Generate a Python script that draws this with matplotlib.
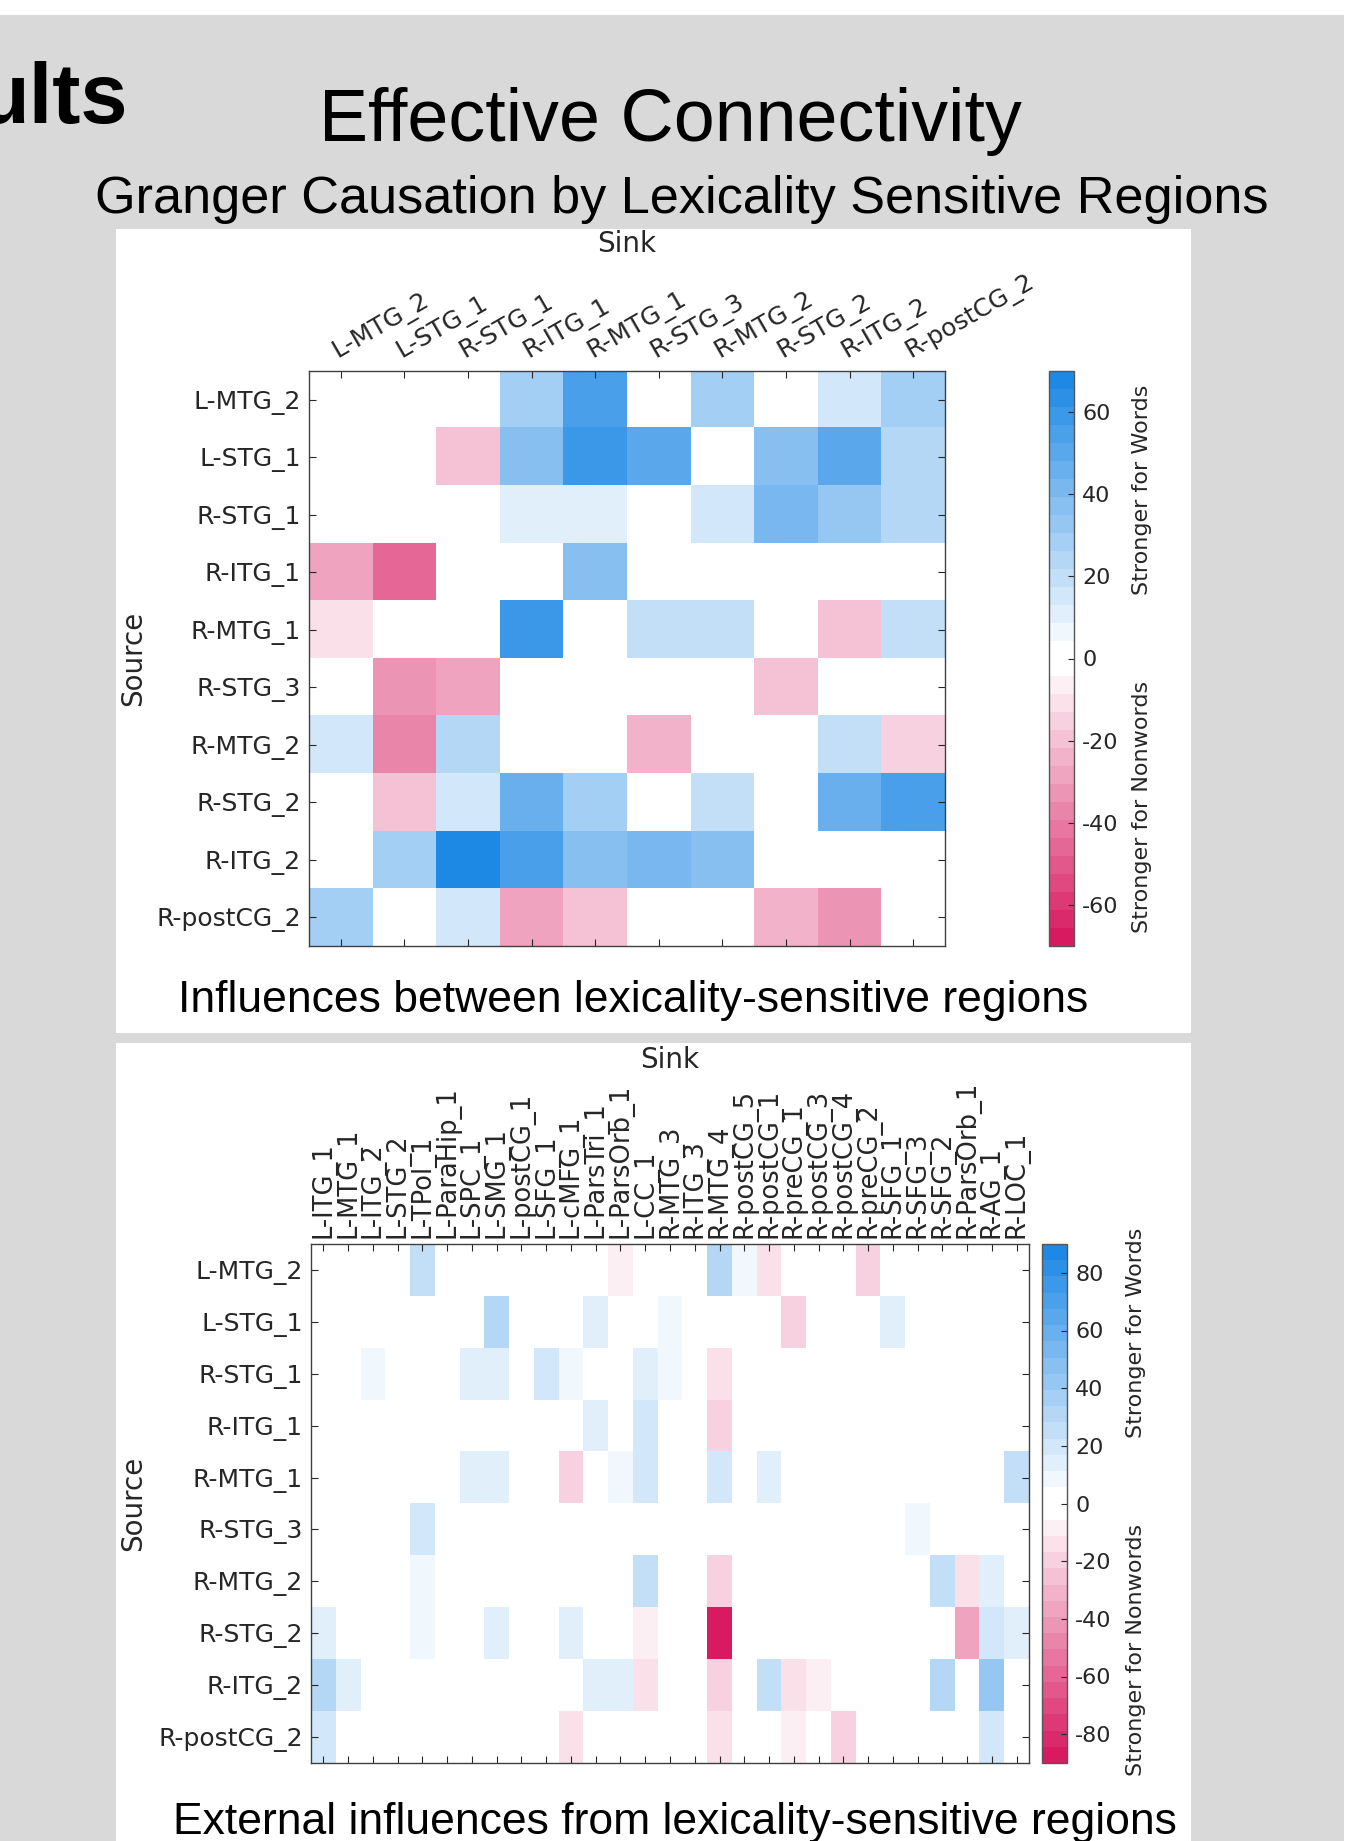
import matplotlib
matplotlib.use("Agg")
import matplotlib.pyplot as plt
from matplotlib.colors import ListedColormap, to_rgb
from matplotlib.patches import Rectangle
import numpy as np

W, H = 1371, 1841

# regions
sources = ['L-MTG_2', 'L-STG_1', 'R-STG_1', 'R-ITG_1', 'R-MTG_1',
           'R-STG_3', 'R-MTG_2', 'R-STG_2', 'R-ITG_2', 'R-postCG_2']
sinks_top = sources
sinks_ext = ['L-ITG_1', 'L-MTG_1', 'L-ITG_2', 'L-STG_2', 'L-TPol_1', 'L-ParaHip_1',
             'L-SPC_1', 'L-SMG_1', 'L-postCG_1', 'L-SFG_1', 'L-cMFG_1', 'L-ParsTri_1',
             'L-ParsOrb_1', 'L-CC_1', 'R-MTG_3', 'R-ITG_3', 'R-MTG_4', 'R-postCG_5',
             'R-postCG_1', 'R-preCG_1', 'R-postCG_3', 'R-postCG_4', 'R-preCG_2',
             'R-SFG_1', 'R-SFG_3', 'R-SFG_2', 'R-ParsOrb_1', 'R-AG_1', 'R-LOC_1']

# influences between lexicality-sensitive regions (rows = source, cols = sink)
gc_within = [
    [0, 0, 0, 28, 54, 0, 28, 0, 15, 28],
    [0, 0, -20, 37, 59, 50, 0, 36, 50, 25],
    [0, 0, 0, 11, 11, 0, 15, 42, 31, 25],
    [-28, -46, 0, 0, 37, 0, 0, 0, 0, 0],
    [-11, 0, 0, 59, 0, 20, 20, 0, -20, 20],
    [0, -33, -28, 0, 0, 0, 0, -20, 0, 0],
    [15, -37, 25, 0, 0, -24, 0, 0, 20, -15],
    [0, -20, 15, 46, 28, 0, 20, 0, 46, 54],
    [0, 28, 68, 54, 37, 42, 37, 0, 0, 0],
    [28, 0, 15, -28, -20, 0, 0, -24, -33, 0],
]

# external influences (rows = source, cols = external sink)
gc_external = [
    [0, 0, 0, 0, 25, 0, 0, 0, 0, 0, 0, 0, -8, 0, 0, 0, 30, 8, -14, 0, 0, 0, -20, 0, 0, 0, 0, 0, 0],
    [0, 0, 0, 0, 0, 0, 0, 30, 0, 0, 0, 12, 0, 0, 8, 0, 0, 0, 0, -20, 0, 0, 0, 12, 0, 0, 0, 0, 0],
    [0, 0, 8, 0, 0, 0, 12, 12, 0, 17, 8, 0, 0, 12, 8, 0, -12, 0, 0, 0, 0, 0, 0, 0, 0, 0, 0, 0, 0],
    [0, 0, 0, 0, 0, 0, 0, 0, 0, 0, 0, 12, 0, 17, 0, 0, -22, 0, 0, 0, 0, 0, 0, 0, 0, 0, 0, 0, 0],
    [0, 0, 0, 0, 0, 0, 12, 12, 0, 0, -18, 0, 8, 17, 0, 0, 17, 0, 12, 0, 0, 0, 0, 0, 0, 0, 0, 0, 25],
    [0, 0, 0, 0, 17, 0, 0, 0, 0, 0, 0, 0, 0, 0, 0, 0, 0, 0, 0, 0, 0, 0, 0, 0, 8, 0, 0, 0, 0],
    [0, 0, 0, 0, 8, 0, 0, 0, 0, 0, 0, 0, 0, 25, 0, 0, -22, 0, 0, 0, 0, 0, 0, 0, 0, 25, -14, 12, 0],
    [12, 0, 0, 0, 8, 0, 0, 12, 0, 0, 12, 0, 0, -8, 0, 0, -88, 0, 0, 0, 0, 0, 0, 0, 0, 0, -35, 17, 12],
    [30, 12, 0, 0, 0, 0, 0, 0, 0, 0, 0, 12, 12, -14, 0, 0, -22, 0, 25, -14, -8, 0, 0, 0, 0, 30, 0, 42, 0],
    [17, 0, 0, 0, 0, 0, 0, 0, 0, 0, -14, 0, 0, 0, 0, 0, -14, 0, 0, -8, 0, -22, 0, 0, 0, 0, 0, 17, 0],
]

top_ticks = [-60, -40, -20, 0, 20, 40, 60]
ext_ticks = [-80, -60, -40, -20, 0, 20, 40, 60, 80]

# 32-step diverging map: pink (nonwords) -> white -> blue (words)
blue = np.array(to_rgb('#1e88e5'))
pink = np.array(to_rgb('#d81b60'))
white = np.ones(3)
steps = np.arange(16) / 15
blues = [white + (blue - white) * s for s in steps]
pinks = [white + (pink - white) * s for s in steps]
cmap = ListedColormap(pinks[::-1] + blues)

plt.rcParams['font.family'] = 'DejaVu Sans'
plt.rcParams['axes.unicode_minus'] = False
TXT = '#262626'

fig = plt.figure(figsize=(W / 100, H / 100), dpi=100, facecolor='#d9d9d9')


def box(x0, y0, x1, y1, color):
    fig.add_artist(Rectangle((x0 / W, 1 - y1 / H), (x1 - x0) / W, (y1 - y0) / H,
                             transform=fig.transFigure, facecolor=color,
                             edgecolor='none', zorder=0))


def new_axes(x0, y0, x1, y1):
    return fig.add_axes([x0 / W, 1 - y1 / H, (x1 - x0) / W, (y1 - y0) / H])


def ftext(x, y, s, **kw):
    fig.text(x / W, 1 - y / H, s, **kw)


# page background pieces
box(0, 0, W, 15, 'white')
box(1344, 0, W, H, 'white')
box(116, 229, 1191, 1033, 'white')
box(116, 1043, 1191, H, 'white')

ftext(128, 123, 'ults', ha='right', va='baseline', fontsize=61,
      fontweight='bold', family='Liberation Sans')
ftext(670, 141, 'Effective Connectivity', ha='center', va='baseline',
      fontsize=53, family='Liberation Sans')
ftext(682, 213, 'Granger Causation by Lexicality Sensitive Regions',
      ha='center', va='baseline', fontsize=37.6, family='Liberation Sans')
ftext(633, 1012, 'Influences between lexicality-sensitive regions',
      ha='center', va='baseline', fontsize=32, family='Liberation Sans')
ftext(675, 1834, 'External influences from lexicality-sensitive regions',
      ha='center', va='baseline', fontsize=32, family='Liberation Sans')


def heatmap(ax, cax, data, cols, vmax, ticks, rot, sink_y, source_x):
    data = np.array(data, dtype=float)
    im = ax.imshow(data, cmap=cmap, vmin=-vmax, vmax=vmax, aspect='auto',
                   interpolation='nearest')
    ax.set_xticks(np.arange(len(cols)))
    ax.set_yticks(np.arange(len(sources)))
    ax.set_yticklabels(sources, fontsize=18, color=TXT)
    ax.tick_params(direction='in', top=True, bottom=True, left=True, right=True,
                   labeltop=True, labelbottom=False, length=5, width=0.8,
                   color=TXT)
    ax.tick_params(axis='y', pad=6)
    if rot == 30:
        ax.set_xticklabels(cols, fontsize=18, color=TXT, rotation=30,
                           ha='left', va='bottom', rotation_mode='anchor')
        ax.tick_params(axis='x', pad=6)
    else:
        ax.set_xticklabels(cols, fontsize=18.5, color=TXT, rotation=90,
                           ha='center', va='bottom')
        ax.tick_params(axis='x', pad=4)
    for sp in ax.spines.values():
        sp.set_color('#404040')
        sp.set_linewidth(1)
    ax.text(0.5, sink_y, 'Sink', transform=ax.transAxes, ha='center',
            va='center', fontsize=20, color=TXT)
    ax.text(source_x, 0.5, 'Source', transform=ax.transAxes, ha='center',
            va='center', rotation=90, fontsize=20, color=TXT)

    cb = fig.colorbar(im, cax=cax, ticks=ticks)
    cb.outline.set_edgecolor('#555555')
    cb.outline.set_linewidth(1)
    cax.tick_params(direction='in', length=4, labelsize=16, labelcolor=TXT,
                    color=TXT, pad=6)
    return im


ax1 = new_axes(309, 371, 945, 946)
cax1 = new_axes(1049, 371, 1074, 946)
heatmap(ax1, cax1, gc_within, sinks_top, 70, top_ticks, 30,
        1 + (371 - 244) / 575, (133 - 309) / 636)
ftext(1142, 490, 'Stronger for Words', rotation=90, ha='center', va='center',
      fontsize=16, color=TXT)
ftext(1142, 807, 'Stronger for Nonwords', rotation=90, ha='center',
      va='center', fontsize=16, color=TXT)

ax2 = new_axes(311, 1244, 1029, 1763)
cax2 = new_axes(1042, 1244, 1067, 1763)
heatmap(ax2, cax2, gc_external, sinks_ext, 90, ext_ticks, 90,
        1 + (1244 - 1060) / 519, (133 - 311) / 718)
ftext(1136, 1333, 'Stronger for Words', rotation=90, ha='center', va='center',
      fontsize=16, color=TXT)
ftext(1136, 1650, 'Stronger for Nonwords', rotation=90, ha='center',
      va='center', fontsize=16, color=TXT)

plt.savefig('out.png', dpi=100, facecolor=fig.get_facecolor())
